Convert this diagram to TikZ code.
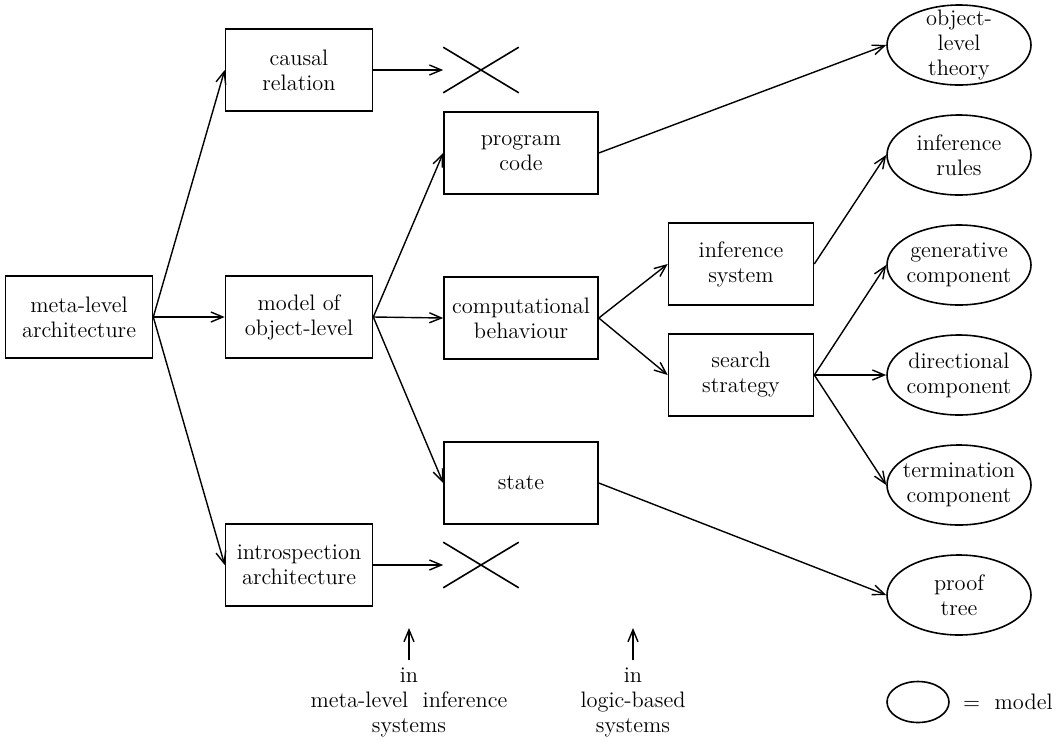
\documentclass[tikz,border=0pt]{standalone}
\usepackage{tikz}
\usetikzlibrary{arrows.meta,shapes.geometric,shapes.misc}

\begin{document}
\begin{tikzpicture}[x=0.5pt, y=-0.5pt, font=\fontsize{11.2}{12.5}\selectfont,
                    every node/.style={align=center},
                    box/.style={draw, rectangle, line width=0.8pt, minimum width=73.5pt, minimum height=41pt, inner sep=0pt},
                    widebox/.style={box, minimum width=77pt},
                    model/.style={draw, ellipse, line width=0.8pt, minimum width=72pt, minimum height=40pt, inner xsep=-3pt, inner ysep=0pt},
                    nope/.style={draw, cross out, line width=0.8pt, minimum width=37pt, minimum height=22pt, inner sep=0pt},
                    arr/.style={-{Straight Barb[length=6pt,width=5pt]}, line width=0.7pt}]
                    \useasboundingbox (0,0) rectangle (1061,740);

                    % Nodes
                    \node[box] (meta) at (79,317) {meta-level\\architecture};
                    \node[box] (causal) at (299,70) {causal\\relation};
                    \node[box] (objmodel) at (299,317) {model of\\object-level};
                    \node[box] (intro) at (299,565) {introspection\\architecture};
                    \node[nope] (x1) at (481,70) {};
                    \node[nope] (x2) at (481,565) {};
                    \node[widebox] (code) at (521,153) {program\\code};
                    \node[widebox] (comp) at (521,318) {computational\\behaviour};
                    \node[widebox] (state) at (521,483) {state};
                    \node[box, minimum width=72.5pt] (infsys) at (741,264) {inference\\system};
                    \node[box, minimum width=72.5pt] (search) at (741,375) {search\\strategy};

                    % Models
                    \node[model, inner ysep=-4pt] (theory) at (959,45) {object-\\level\\theory};
                    \node[model] (rules) at (959,155) {inference\\rules};
                    \node[model] (gen) at (959,265) {generative\\component};
                    \node[model] (dir) at (959,375) {directional\\component};
                    \node[model] (term) at (959,485) {termination\\component};
                    \node[model] (tree) at (959,595) {proof\\tree};

                    % Legend
                    \node[model, minimum width=31pt, minimum height=20.5pt] (key) at (918,702) {};
                    \node[anchor=west] (keytext) at (956,702) {$=$\ \ model};

                    % Notes
                    \node (note1) at (409,702) {in\\meta-level\ \ inference\\systems};
                    \node (note2) at (633,702) {in\\logic-based\\systems};
                    \coordinate (tip1) at (409,628);
                    \coordinate (tip2) at (633,628);

                    % Edges
                    \draw[arr] (meta.east) -- (causal.west);
                    \draw[arr] (meta.east) -- (objmodel.west);
                    \draw[arr] (meta.east) -- (intro.west);
                    \draw[arr] (causal.east) -- (x1.west);
                    \draw[arr] (intro.east) -- (x2.west);
                    \draw[arr] (objmodel.east) -- (code.west);
                    \draw[arr] (objmodel.east) -- (comp.west);
                    \draw[arr] (objmodel.east) -- (state.west);
                    \draw[arr] (code.east) -- (theory.west);
                    \draw[arr] (comp.east) -- (infsys.west);
                    \draw[arr] (comp.east) -- (search.west);
                    \draw[arr] (infsys.east) -- (rules.west);
                    \draw[arr] (search.east) -- (gen.west);
                    \draw[arr] (search.east) -- (dir.west);
                    \draw[arr] (search.east) -- (term.west);
                    \draw[arr] (state.east) -- (tree.west);
                    \draw[arr] (note1.north) -- (tip1);
                    \draw[arr] (note2.north) -- (tip2);
                \end{tikzpicture}
\end{document}
